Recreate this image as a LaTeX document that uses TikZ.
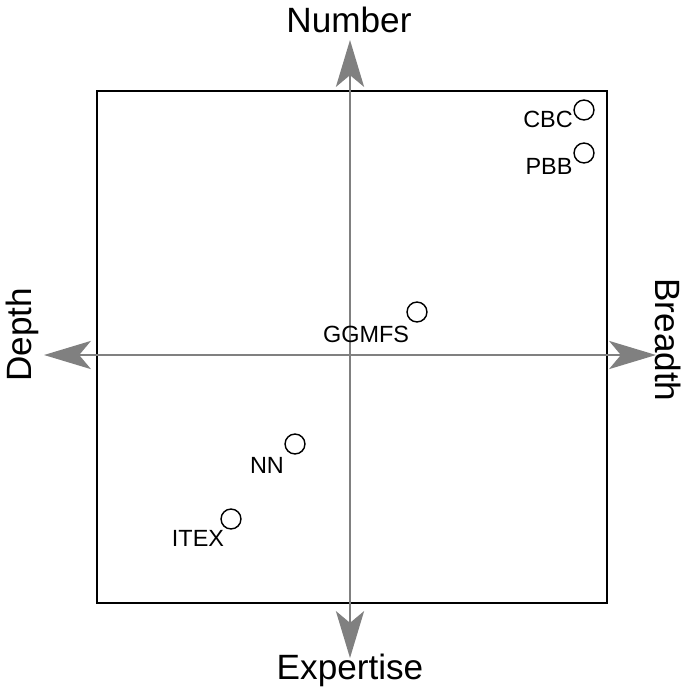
\documentclass[tikz,border=0pt]{standalone}
\usepackage{fontspec}
\setmainfont{Liberation Sans}
\usetikzlibrary{arrows.meta}
\tikzstyle{study}=[circle,draw=black,line width=1.2pt,minimum size=17pt,inner sep=0pt]
\tikzstyle{tag}=[inner sep=0pt,font=\fontsize{20}{20}\selectfont]
\tikzstyle{axislabel}=[inner sep=0pt,font=\fontsize{30}{30}\selectfont]
\tikzstyle{axis} = [draw=black!50,line width=2.2pt,-{Stealth[length=40pt,width=24pt,inset=10pt]}]

\begin{document}
\begin{tikzpicture}[x=0.03cm,y=-0.03cm]
    \useasboundingbox (0,0) rectangle (691,692);
    % Frame
    \draw[line width=2.2pt] (97,91) rectangle (607,603);
    % Axis ends
    \coordinate (origin) at (350,355);
    \coordinate (top) at (350,40);
    \coordinate (bottom) at (350,658);
    \coordinate (left) at (44,355);
    \coordinate (right) at (656,355);
    \path[axis] (origin) -- (top);
    \path[axis] (origin) -- (bottom);
    \path[axis] (origin) -- (left);
    \path[axis] (origin) -- (right);
    % Axis labels
    \node[axislabel] (number) at (349,20) {Number};
    \node[axislabel] (expertise) at (350,670) {Expertise};
    \node[axislabel,rotate=90] (depth) at (22,335) {Depth};
    \node[axislabel,rotate=-90] (breadth) at (668,340) {Breadth};
    % Studies
    \foreach \pos/\name/\lpos in {{(584,110)/CBC/(548,119)}, {(584,153)/PBB/(549,166)},
        {(417,312)/GGMFS/(366,334)}, {(295,444)/NN/(267,465)}, {(231,519)/ITEX/(198,538)}}
    {
        \node[study] (\name) at \pos {};
        \node[tag] (\name-tag) at \lpos {\name};
    }
\end{tikzpicture}
\end{document}
